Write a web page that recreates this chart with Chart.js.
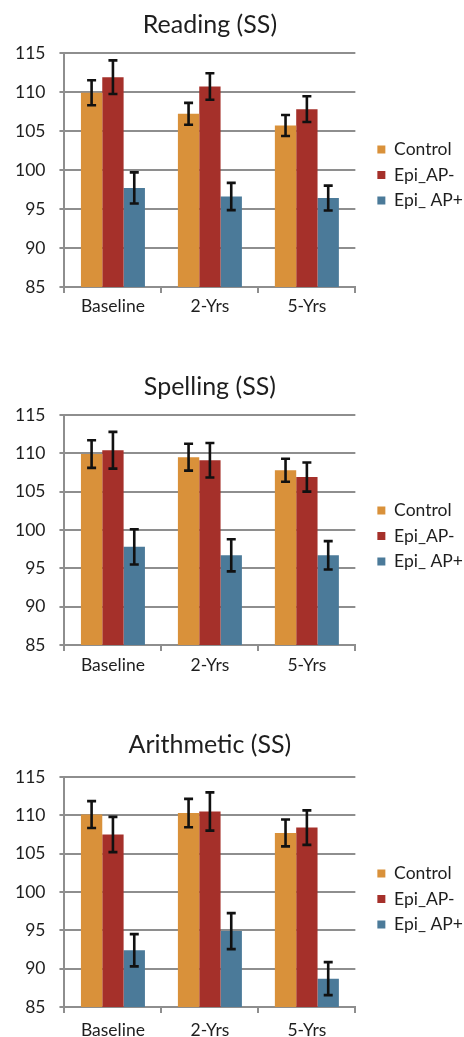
<!DOCTYPE html>
<html>
<head>
<meta charset="utf-8">
<script src="https://cdn.jsdelivr.net/npm/chart.js@4.4.0/dist/chart.umd.min.js"></script>
<style>
  html, body { margin: 0; padding: 0; background: #ffffff; width: 464px; height: 1037px; overflow: hidden; }
  .box { position: absolute; left: 0; width: 464px; }
</style>
</head>
<body>
<div class="box" id="b1" style="top:0px;height:324px;"><canvas id="c1"></canvas></div>
<div class="box" id="b2" style="top:362px;height:322px;"><canvas id="c2"></canvas></div>
<div class="box" id="b3" style="top:720px;height:332px;"><canvas id="c3"></canvas></div>
<script>
const categories = ['Baseline', '2-Yrs', '5-Yrs'];
const seriesNames = ['Control', 'Epi_AP-', 'Epi_ AP+'];
const yTicks = [85, 90, 95, 100, 105, 110, 115];

const readingControl = [109.9, 107.2, 105.7];
const readingControlErr = [1.6, 1.4, 1.35];
const readingApNeg = [111.9, 110.7, 107.8];
const readingApNegErr = [2.15, 1.7, 1.65];
const readingApPos = [97.7, 96.6, 96.4];
const readingApPosErr = [2.0, 1.75, 1.6];

const spellingControl = [109.9, 109.5, 107.8];
const spellingControlErr = [1.8, 1.75, 1.5];
const spellingApNeg = [110.4, 109.1, 106.9];
const spellingApNegErr = [2.4, 2.25, 1.9];
const spellingApPos = [97.8, 96.7, 96.7];
const spellingApPosErr = [2.3, 2.1, 1.85];

const arithControl = [110.1, 110.3, 107.7];
const arithControlErr = [1.75, 1.85, 1.75];
const arithApNeg = [107.5, 110.5, 108.4];
const arithApNegErr = [2.3, 2.5, 2.25];
const arithApPos = [92.4, 94.9, 88.7];
const arithApPosErr = [2.1, 2.35, 2.15];

const colors = ['#d9913a', '#a5302a', '#4b7a99'];
const gridColor = '#8e8e8e';
const textColor = '#1e1e1e';
const FONT = 'Lato, "Open Sans", sans-serif';

const errorBars = {
  id: 'errorBars',
  afterDatasetsDraw(chart) {
    const ctx = chart.ctx;
    const ys = chart.scales.y;
    ctx.save();
    ctx.strokeStyle = '#111111';
    ctx.lineWidth = 2.6;
    chart.data.datasets.forEach((ds, i) => {
      const meta = chart.getDatasetMeta(i);
      meta.data.forEach((bar, j) => {
        const v = ds.data[j], e = ds.errors[j];
        const x = bar.x;
        const yHi = ys.getPixelForValue(v + e);
        const yLo = ys.getPixelForValue(v - e);
        ctx.beginPath();
        ctx.moveTo(x, yHi); ctx.lineTo(x, yLo);
        ctx.moveTo(x - 4.5, yHi); ctx.lineTo(x + 4.5, yHi);
        ctx.moveTo(x - 4.5, yLo); ctx.lineTo(x + 4.5, yLo);
        ctx.stroke();
      });
    });
    ctx.restore();
  }
};

// centres the title over the plot area and moves the legend away from the plot
const layoutTweaks = {
  id: 'layoutTweaks',
  afterLayout(chart) {
    const ca = chart.chartArea;
    if (chart.titleBlock) { chart.titleBlock.left = ca.left; chart.titleBlock.right = ca.right; }
    if (chart.legend) {
      chart.legend.left += 14; chart.legend.right += 14;
      chart.legend.top += 15; chart.legend.bottom += 15;
    }
  }
};

function makeChart(id, title, vals, errs, titlePadBottom, xPad) {
  new Chart(document.getElementById(id), {
    type: 'bar',
    data: {
      labels: categories,
      datasets: vals.map((v, i) => ({
        label: seriesNames[i],
        data: v,
        errors: errs[i],
        backgroundColor: colors[i],
        borderWidth: 0,
        barPercentage: 1.0,
        categoryPercentage: 0.66
      }))
    },
    options: {
      responsive: true,
      maintainAspectRatio: false,
      animation: false,
      devicePixelRatio: 1,
      layout: { padding: { top: 0, left: 1, right: 5, bottom: 4 } },
      plugins: {
        title: {
          display: true,
          text: title,
          color: textColor,
          font: { family: FONT, size: 25, weight: 'normal' },
          padding: { top: 10, bottom: titlePadBottom }
        },
        legend: {
          position: 'right',
          labels: {
            color: textColor,
            font: { family: FONT, size: 17.5 },
            boxWidth: 8,
            boxHeight: 8,
            padding: 8
          }
        },
        tooltip: { enabled: false }
      },
      scales: {
        x: {
          ticks: { color: textColor, font: { family: FONT, size: 17.5 }, padding: xPad },
          grid: { display: true, offset: true, drawOnChartArea: false, drawTicks: true, tickLength: 6, color: gridColor, lineWidth: 2 },
          border: { display: true, color: gridColor, width: 2 }
        },
        y: {
          min: yTicks[0],
          max: yTicks[yTicks.length - 1],
          afterBuildTicks(scale) { scale.ticks = yTicks.map(v => ({ value: v })); },
          ticks: { color: textColor, font: { family: FONT, size: 17.5 }, padding: 14 },
          grid: { color: gridColor, lineWidth: 2, drawTicks: true, tickLength: 5 },
          border: { display: true, color: gridColor, width: 2 }
        }
      }
    },
    plugins: [errorBars, layoutTweaks]
  });
}

makeChart('c1', 'Reading (SS)',
  [readingControl, readingApNeg, readingApPos],
  [readingControlErr, readingApNegErr, readingApPosErr], 13, 3);
makeChart('c2', 'Spelling (SS)',
  [spellingControl, spellingApNeg, spellingApPos],
  [spellingControlErr, spellingApNegErr, spellingApPosErr], 13, 4);
makeChart('c3', 'Arithmetic (SS)',
  [arithControl, arithApNeg, arithApPos],
  [arithControlErr, arithApNegErr, arithApPosErr], 17, 7);
</script>
</body>
</html>
